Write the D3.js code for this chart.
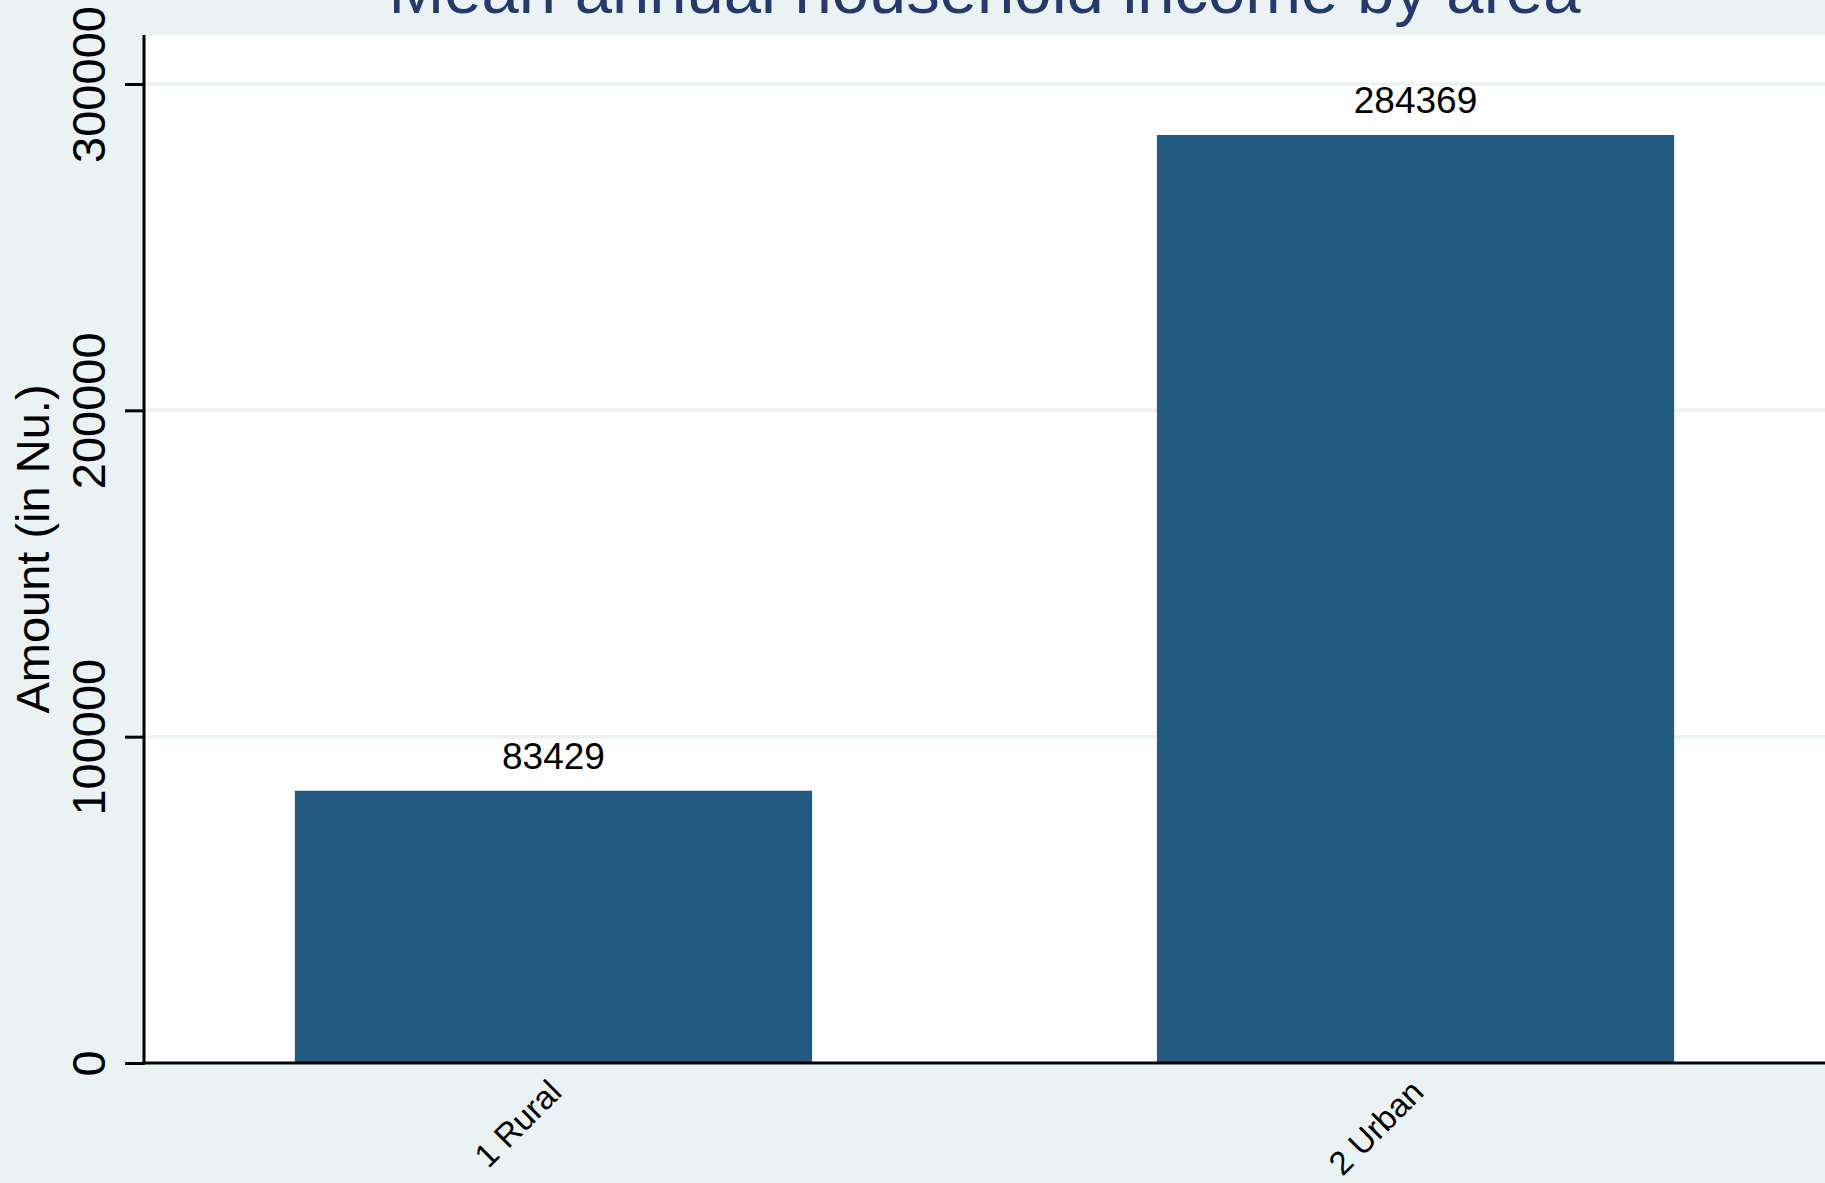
<!DOCTYPE html>
<html>
<head>
<meta charset="utf-8">
<script src="https://cdn.jsdelivr.net/npm/d3@7"></script>
<style>
  html, body { margin: 0; padding: 0; background: #eaf2f3; overflow: hidden; }
  svg { display: block; font-family: "Liberation Sans", Arial, Helvetica, sans-serif; }
</style>
</head>
<body>
<svg id="chart" width="1825" height="1183"></svg>
<script>
const categories = ["1 Rural", "2 Urban"];
const values = [83429, 284369];
const yTicks = [0, 100000, 200000, 300000];
const titleText = "Mean annual household income by area";
const yTitle = "Amount (in Nu.)";

const W = 1825, H = 1183;
const plot = { left: 144, right: 1825, top: 35, bottom: 1063 };

const svg = d3.select("#chart");
svg.append("rect").attr("x", 0).attr("y", 0).attr("width", W).attr("height", H).attr("fill", "#eaf2f3");
svg.append("rect")
  .attr("x", plot.left).attr("y", plot.top)
  .attr("width", plot.right - plot.left).attr("height", plot.bottom - plot.top)
  .attr("fill", "#ffffff");

const x = d3.scaleBand().domain(categories).range([plot.left, plot.right])
  .paddingInner(0.4).paddingOuter(0.175);
const y = d3.scaleLinear().domain([0, 300000]).range([plot.bottom, 84]);

// gridlines
svg.append("g").selectAll("line").data(yTicks.filter(d => d > 0)).join("line")
  .attr("x1", plot.left).attr("x2", plot.right)
  .attr("y1", d => y(d)).attr("y2", d => y(d))
  .attr("stroke", "#eaf2f3").attr("stroke-width", 3.5);

// bars
svg.append("g").selectAll("rect").data(values).join("rect")
  .attr("x", (d, i) => x(categories[i]))
  .attr("width", x.bandwidth())
  .attr("y", d => y(d))
  .attr("height", d => y(0) - y(d))
  .attr("fill", "#235a80");

// value labels
svg.append("g").selectAll("text").data(values).join("text")
  .attr("x", (d, i) => x(categories[i]) + x.bandwidth() / 2)
  .attr("y", d => y(d) - 22)
  .attr("text-anchor", "middle")
  .attr("font-size", 37)
  .attr("fill", "#000")
  .text(d => d);

// y axis
const yAxis = d3.axisLeft(y).tickValues(yTicks).tickSize(19).tickFormat(d3.format("d"));
const yg = svg.append("g").attr("transform", `translate(${plot.left},0)`).call(yAxis);
yg.select(".domain").remove();
yg.selectAll(".tick line").attr("stroke", "#000").attr("stroke-width", 3);
yg.selectAll(".tick text")
  .attr("font-size", 47)
  .attr("fill", "#000")
  .attr("text-anchor", "middle")
  .attr("dy", null)
  .attr("x", null)
  .attr("transform", `translate(${105 - plot.left},0) rotate(-90)`)
  .attr("font-family", "Liberation Sans, Arial, sans-serif");
svg.append("line")
  .attr("x1", plot.left).attr("x2", plot.left)
  .attr("y1", plot.top).attr("y2", plot.bottom + 1.5)
  .attr("stroke", "#000").attr("stroke-width", 3);

// x axis
const xAxis = d3.axisBottom(x).tickSize(0);
const xg = svg.append("g").attr("transform", `translate(0,${plot.bottom})`).call(xAxis);
xg.select(".domain").remove();
xg.selectAll(".tick text")
  .attr("font-size", 33)
  .attr("fill", "#000")
  .attr("text-anchor", "end")
  .attr("dy", null)
  .attr("y", null)
  .attr("transform", "translate(10,31) rotate(-45)")
  .attr("font-family", "Liberation Sans, Arial, sans-serif");
svg.append("line")
  .attr("x1", plot.left - 1.5).attr("x2", plot.right)
  .attr("y1", plot.bottom).attr("y2", plot.bottom)
  .attr("stroke", "#000").attr("stroke-width", 3);

// y title
svg.append("text")
  .attr("transform", `translate(49,${(plot.top + plot.bottom) / 2}) rotate(-90)`)
  .attr("text-anchor", "middle")
  .attr("font-size", 47)
  .attr("fill", "#000")
  .text(yTitle);

// title (cut off at the top edge, as in the reference)
svg.append("text")
  .attr("x", (plot.left + plot.right) / 2)
  .attr("y", 13)
  .attr("text-anchor", "middle")
  .attr("font-size", 67)
  .attr("fill", "#253a6a")
  .text(titleText);
</script>
</body>
</html>
